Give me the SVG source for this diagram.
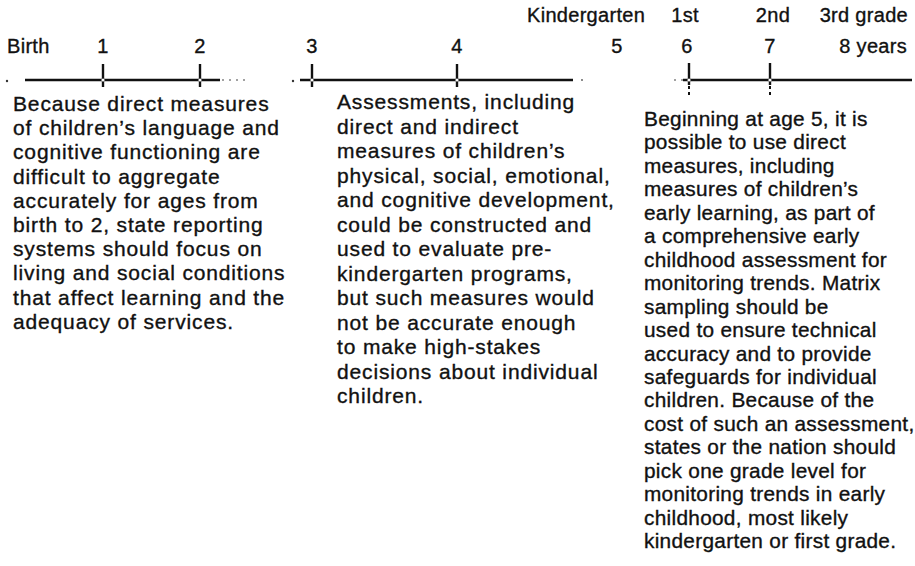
<svg xmlns="http://www.w3.org/2000/svg" width="915" height="566" viewBox="0 0 915 566">
  <style>
    text { font-family: "Liberation Sans", Arial, sans-serif; fill: #111; stroke: #111; stroke-width: 0.35px; }
    .lbl { font-size: 20px; letter-spacing: 0.3px; }
    .body { font-size: 21px; letter-spacing: 0.85px; }
    .body3 { font-size: 20.8px; letter-spacing: 0.3px; }
    .axis { stroke: #111; stroke-width: 2.6; fill: none; }
    .tick { stroke: #111; stroke-width: 2.4; }
    .faint { stroke: #444; stroke-width: 1.2; stroke-dasharray: 2 5; fill: none; }
    .tail { stroke: #111; stroke-width: 2; stroke-dasharray: 3 3; }
    .knot { fill: #fff; stroke: none; }
  </style>

  <!-- age and grade labels -->
  <g id="labels">
    <text class="lbl" x="7" y="53">Birth</text>
    <text class="lbl" x="103" y="53" text-anchor="middle">1</text>
    <text class="lbl" x="200" y="53" text-anchor="middle">2</text>
    <text class="lbl" x="312" y="53" text-anchor="middle">3</text>
    <text class="lbl" x="457" y="53" text-anchor="middle">4</text>
    <text class="lbl" x="617" y="53" text-anchor="middle">5</text>
    <text class="lbl" x="687" y="53" text-anchor="middle">6</text>
    <text class="lbl" x="770" y="53" text-anchor="middle">7</text>
    <text class="lbl" x="907" y="53" text-anchor="end">8 years</text>
    <text class="lbl" x="527" y="22">Kindergarten</text>
    <text class="lbl" x="685" y="22" text-anchor="middle">1st</text>
    <text class="lbl" x="773" y="22" text-anchor="middle">2nd</text>
    <text class="lbl" x="908" y="22" text-anchor="end">3rd grade</text>
  </g>

  <!-- timeline segments with year ticks -->
  <g id="connectors">
    <circle cx="7" cy="81" r="1.2" fill="#333"/>
    <line class="axis" x1="25" y1="80" x2="220" y2="80"/>
    <line class="faint" x1="222" y1="80" x2="246" y2="80"/>
    <line class="tick" x1="103" y1="64" x2="103" y2="87"/>
    <line class="tick" x1="200" y1="64" x2="200" y2="87"/>
    <circle class="knot" cx="103" cy="80" r="1.6"/>
    <circle class="knot" cx="200" cy="80" r="1.6"/>

    <circle cx="293" cy="81" r="1.2" fill="#333"/>
    <line class="axis" x1="300" y1="80" x2="573" y2="80"/>
    <circle cx="582" cy="80" r="0.9" fill="#555"/>
    <line class="tick" x1="312" y1="64" x2="312" y2="87"/>
    <line class="tick" x1="457" y1="64" x2="457" y2="87"/>
    <circle class="knot" cx="312" cy="80" r="1.6"/>
    <circle class="knot" cx="457" cy="80" r="1.6"/>

    <line class="faint" x1="674" y1="80" x2="684" y2="80"/>
    <line class="axis" x1="683" y1="80" x2="912" y2="80"/>
    <line class="tick" x1="689" y1="63" x2="689" y2="85"/>
    <line class="tail" x1="689" y1="86" x2="689" y2="96"/>
    <line class="tick" x1="770" y1="63" x2="770" y2="85"/>
    <line class="tail" x1="770" y1="86" x2="770" y2="96"/>
    <circle class="knot" cx="689" cy="80" r="1.6"/>
    <circle class="knot" cx="770" cy="80" r="1.6"/>
  </g>

  <!-- birth to age 2 -->
  <g id="note-birth-to-2">
    <text class="body" x="13" y="111">Because direct measures</text>
    <text class="body" x="13" y="135.2">of children’s language and</text>
    <text class="body" x="13" y="159.4">cognitive functioning are</text>
    <text class="body" x="13" y="183.6">difficult to aggregate</text>
    <text class="body" x="13" y="207.8">accurately for ages from</text>
    <text class="body" x="13" y="232">birth to 2, state reporting</text>
    <text class="body" x="13" y="256.2">systems should focus on</text>
    <text class="body" x="13" y="280.4">living and social conditions</text>
    <text class="body" x="13" y="304.6">that affect learning and the</text>
    <text class="body" x="13" y="328.8">adequacy of services.</text>
  </g>

  <!-- ages 3 to 4 -->
  <g id="note-3-to-4">
    <text class="body" x="337" y="109">Assessments, including</text>
    <text class="body" x="337" y="133.5">direct and indirect</text>
    <text class="body" x="337" y="158">measures of children’s</text>
    <text class="body" x="337" y="182.5">physical, social, emotional,</text>
    <text class="body" x="337" y="207">and cognitive development,</text>
    <text class="body" x="337" y="231.5">could be constructed and</text>
    <text class="body" x="337" y="256">used to evaluate pre-</text>
    <text class="body" x="337" y="280.5">kindergarten programs,</text>
    <text class="body" x="337" y="305">but such measures would</text>
    <text class="body" x="337" y="329.5">not be accurate enough</text>
    <text class="body" x="337" y="354">to make high-stakes</text>
    <text class="body" x="337" y="378.5">decisions about individual</text>
    <text class="body" x="337" y="403">children.</text>
  </g>

  <!-- age 5 and beyond -->
  <g id="note-5-plus">
    <text class="body3" x="644" y="126">Beginning at age 5, it is</text>
    <text class="body3" x="644" y="149.45">possible to use direct</text>
    <text class="body3" x="644" y="172.9">measures, including</text>
    <text class="body3" x="644" y="196.35">measures of children’s</text>
    <text class="body3" x="644" y="219.8">early learning, as part of</text>
    <text class="body3" x="644" y="243.25">a comprehensive early</text>
    <text class="body3" x="644" y="266.7">childhood assessment for</text>
    <text class="body3" x="644" y="290.15">monitoring trends. Matrix</text>
    <text class="body3" x="644" y="313.6">sampling should be</text>
    <text class="body3" x="644" y="337.05">used to ensure technical</text>
    <text class="body3" x="644" y="360.5">accuracy and to provide</text>
    <text class="body3" x="644" y="383.95">safeguards for individual</text>
    <text class="body3" x="644" y="407.4">children. Because of the</text>
    <text class="body3" x="644" y="430.85">cost of such an assessment,</text>
    <text class="body3" x="644" y="454.3">states or the nation should</text>
    <text class="body3" x="644" y="477.75">pick one grade level for</text>
    <text class="body3" x="644" y="501.2">monitoring trends in early</text>
    <text class="body3" x="644" y="524.65">childhood, most likely</text>
    <text class="body3" x="644" y="548.1">kindergarten or first grade.</text>
  </g>
</svg>
